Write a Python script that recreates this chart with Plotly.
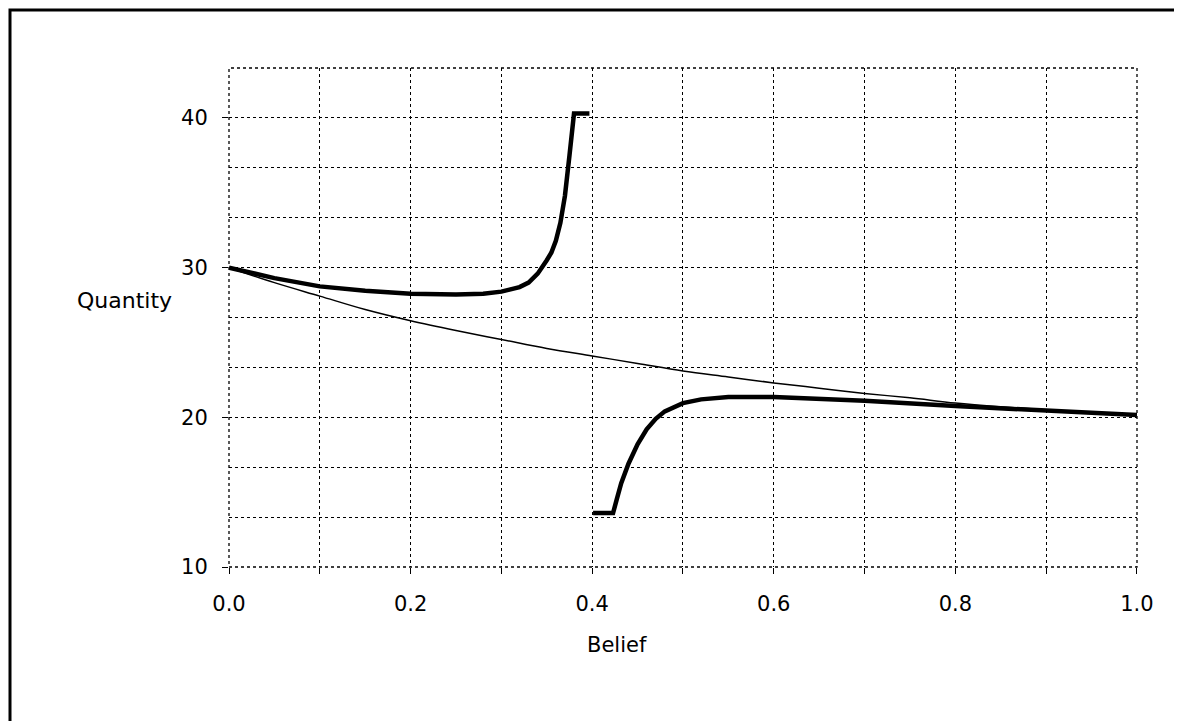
import plotly.graph_objects as go

# ---- data ----
belief_thin = [0.0, 0.05, 0.1, 0.15, 0.2, 0.25, 0.3, 0.35, 0.4, 0.45, 0.5,
               0.55, 0.6, 0.65, 0.7, 0.75, 0.8, 0.85, 0.9, 0.95, 1.0]
quantity_thin = [30.0, 29.0, 28.1, 27.2, 26.45, 25.8, 25.2, 24.6, 24.1, 23.6, 23.1,
                 22.7, 22.3, 21.95, 21.6, 21.3, 20.95, 20.7, 20.5, 20.3, 20.15]

belief_upper = [0.0, 0.05, 0.1, 0.15, 0.2, 0.25, 0.28, 0.3, 0.32, 0.33, 0.34,
                0.345, 0.35, 0.355, 0.36, 0.365, 0.37, 0.375, 0.38, 0.397]
quantity_upper = [30.0, 29.3, 28.75, 28.45, 28.25, 28.2, 28.25, 28.4, 28.7, 29.0, 29.6,
                  30.0, 30.5, 31.0, 31.8, 33.0, 34.8, 37.5, 40.3, 40.3]

belief_lower = [0.401, 0.423, 0.427, 0.432, 0.44, 0.45, 0.46, 0.47, 0.48, 0.5,
                0.52, 0.55, 0.6, 0.65, 0.7, 0.8, 0.9, 1.0]
quantity_lower = [13.6, 13.6, 14.5, 15.6, 16.9, 18.2, 19.2, 19.9, 20.4, 20.95,
                  21.2, 21.35, 21.35, 21.25, 21.1, 20.75, 20.45, 20.15]

x_ticks = [0.0, 0.2, 0.4, 0.6, 0.8, 1.0]
x_tick_labels = ["0.0", "0.2", "0.4", "0.6", "0.8", "1.0"]
y_ticks = [10, 20, 30, 40]
y_tick_labels = ["10", "20", "30", "40"]

FONT = "DejaVu Sans"

fig = go.Figure()
fig.add_trace(go.Scatter(x=belief_thin, y=quantity_thin, mode="lines",
                         line=dict(color="black", width=1.5, shape="spline"),
                         showlegend=False, hoverinfo="skip"))
fig.add_trace(go.Scatter(x=belief_upper, y=quantity_upper, mode="lines",
                         line=dict(color="black", width=4.5),
                         showlegend=False, hoverinfo="skip"))
fig.add_trace(go.Scatter(x=belief_lower, y=quantity_lower, mode="lines",
                         line=dict(color="black", width=4.5),
                         showlegend=False, hoverinfo="skip"))

grid_common = dict(showgrid=True, gridcolor="black", gridwidth=1.3, griddash="dot",
                   zeroline=False, showline=False, ticks="outside", ticklen=6,
                   tickcolor="black", tickwidth=1,
                   tickfont=dict(family=FONT, size=21, color="black"))

fig.update_xaxes(range=[0, 1.0001], tickmode="array", tickvals=x_ticks,
                 ticktext=x_tick_labels, ticklabelstandoff=12,
                 minor=dict(dtick=0.1, tick0=0, showgrid=True, gridcolor="black",
                            gridwidth=1.3, griddash="dot", ticks="outside",
                            ticklen=6, tickcolor="black"),
                 **grid_common)
fig.update_yaxes(range=[10, 43.34], tickmode="array", tickvals=y_ticks,
                 ticktext=y_tick_labels, ticklabelstandoff=10,
                 minor=dict(dtick=10 / 3, tick0=10, showgrid=True, gridcolor="black",
                            gridwidth=1.3, griddash="dot"),
                 **grid_common)

# page body has an 8px margin, so work in page pixels minus 8
OFF = 8
W, H = 1182 - OFF, 721 - OFF
L, R, T, B = 229 - OFF, 1137 - OFF, 68 - OFF, 567 - OFF
pw, ph = R - L, B - T

def px(xp):
    return (xp - OFF - L) / pw

def py(yp):
    return (B - (yp - OFF)) / ph

# dotted border of the plotting area
fig.add_shape(type="rect", xref="paper", yref="paper", x0=0, x1=1, y0=0, y1=1,
              line=dict(color="black", width=1.3, dash="dot"), layer="above")
# outer frame of the scanned figure
fig.add_shape(type="rect", xref="paper", yref="paper",
              x0=px(10), x1=px(1220), y0=py(760), y1=py(10),
              line=dict(color="black", width=3))

fig.add_annotation(text="Quantity", xref="paper", yref="paper", x=px(124), y=py(300),
                   xanchor="center", yanchor="middle",
                   showarrow=False, font=dict(family=FONT, size=22, color="black"))
fig.add_annotation(text="Belief", xref="paper", yref="paper", x=px(617), y=py(645),
                   xanchor="center", yanchor="middle",
                   showarrow=False, font=dict(family=FONT, size=21, color="black"))

fig.update_layout(width=W, height=H, margin=dict(l=L, r=W - R, t=T, b=H - B),
                  paper_bgcolor="white", plot_bgcolor="white", showlegend=False)

fig.write_html("out.html")
